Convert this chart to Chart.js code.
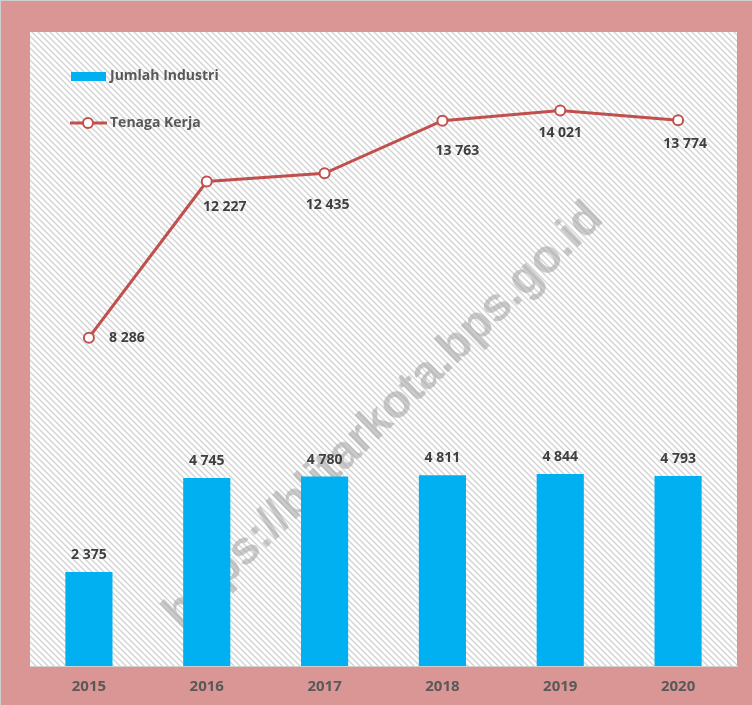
<!DOCTYPE html>
<html>
<head>
<meta charset="utf-8">
<script src="https://cdn.jsdelivr.net/npm/chart.js@4.4.0/dist/chart.umd.min.js"></script>
<style>
  body { margin: 0; background: #d99694; }
  #wrap { width: 752px; height: 705px; }
</style>
</head>
<body>
<div id="wrap"><canvas id="myChart" width="752" height="705"></canvas></div>
<script>
var years = ['2015', '2016', '2017', '2018', '2019', '2020'];
var jumlahIndustri = [2375, 4745, 4780, 4811, 4844, 4793];
var tenagaKerja = [8286, 12227, 12435, 13763, 14021, 13774];

var pink = '#d99694';
var blue = '#00b0f0';
var red = '#c0504d';

function fmt(v) {
  return String(v).replace(/\B(?=(\d{3})+(?!\d))/g, ' ');
}

function hatch(ctx) {
  var c = document.createElement('canvas');
  c.width = 6; c.height = 6;
  var p = c.getContext('2d');
  p.fillStyle = '#fff';
  p.fillRect(0, 0, 6, 6);
  p.strokeStyle = '#d3d3d3';
  p.lineWidth = 1.4;
  p.beginPath();
  p.moveTo(-1, -1); p.lineTo(7, 7);
  p.moveTo(-4, 2); p.lineTo(4, 10);
  p.moveTo(2, -4); p.lineTo(10, 4);
  p.stroke();
  return ctx.createPattern(c, 'repeat');
}

// background, hatch and watermark
var backdrop = {
  id: 'backdrop',
  beforeDraw: function(chart) {
    var ctx = chart.ctx, a = chart.chartArea;
    ctx.save();
    ctx.fillStyle = pink;
    ctx.fillRect(0, 0, chart.width, chart.height);
    ctx.fillStyle = '#cfcfcf';
    ctx.fillRect(0, 0, chart.width, 1);
    ctx.fillRect(0, 0, 1, chart.height);
    ctx.fillStyle = hatch(ctx);
    ctx.fillRect(a.left, a.top, a.right - a.left, a.bottom - a.top);
    ctx.restore();
  },
  beforeDatasetsDraw: function(chart) {
    var ctx = chart.ctx;
    ctx.save();
    ctx.translate(384, 416);
    ctx.rotate(-44 * Math.PI / 180);
    ctx.font = 'bold 47px "Liberation Sans", Arial, sans-serif';
    ctx.fillStyle = 'rgba(160,160,160,0.55)';
    ctx.textAlign = 'center';
    ctx.textBaseline = 'middle';
    ctx.fillText('https://blitarkota.bps.go.id', 0, 0);
    ctx.restore();
  }
};

// value labels and legend
var labels = {
  id: 'labels',
  afterDatasetsDraw: function(chart, args, opts) {
    var ctx = chart.ctx;
    ctx.save();
    ctx.font = 'bold 14px "Open Sans", sans-serif';
    ctx.fillStyle = '#3f3f3f';
    ctx.textAlign = 'center';
    ctx.textBaseline = 'middle';
    chart.getDatasetMeta(0).data.forEach(function(el, i) {
      ctx.fillText(fmt(jumlahIndustri[i]), el.x, el.y - 17);
    });
    chart.getDatasetMeta(1).data.forEach(function(el, i) {
      var o = opts.lineOffsets[i];
      ctx.fillText(fmt(tenagaKerja[i]), el.x + o[0], el.y + o[1]);
    });

    // legend
    ctx.font = 'bold 14px "Open Sans", sans-serif';
    ctx.fillStyle = '#595959';
    ctx.textAlign = 'left';
    ctx.fillText('Jumlah Industri', 110, 76);
    ctx.fillText('Tenaga Kerja', 110, 123);
    ctx.fillStyle = blue;
    ctx.fillRect(71, 72, 35, 9);
    ctx.strokeStyle = red;
    ctx.lineWidth = 3;
    ctx.beginPath();
    ctx.moveTo(70, 123); ctx.lineTo(107, 123);
    ctx.stroke();
    ctx.beginPath();
    ctx.arc(88, 123, 5, 0, Math.PI * 2);
    ctx.fillStyle = '#fff';
    ctx.fill();
    ctx.lineWidth = 2;
    ctx.stroke();
    ctx.restore();
  }
};

var ctx = document.getElementById('myChart').getContext('2d');
new Chart(ctx, {
  data: {
    labels: years,
    datasets: [{
      type: 'bar',
      label: 'Jumlah Industri',
      data: jumlahIndustri,
      backgroundColor: blue,
      barPercentage: 0.4,
      categoryPercentage: 1,
      order: 2
    }, {
      type: 'line',
      label: 'Tenaga Kerja',
      data: tenagaKerja,
      borderColor: red,
      borderWidth: 3,
      tension: 0,
      pointRadius: 5,
      pointBorderWidth: 2,
      pointBackgroundColor: '#fff',
      pointBorderColor: red,
      order: 1
    }]
  },
  options: {
    responsive: false,
    animation: false,
    layout: { padding: { left: 30, right: 15, top: 32, bottom: 0 } },
    plugins: {
      legend: { display: false },
      tooltip: { enabled: false },
      labels: { lineOffsets: [[38, 0], [18, 26], [3, 32], [15, 30], [0, 23], [7, 24]] }
    },
    scales: {
      x: {
        grid: { display: false, drawTicks: false },
        border: { display: true, color: '#d0d0d0', width: 1 },
        ticks: { color: '#595959', font: { family: '"Open Sans", sans-serif', size: 15, weight: 'bold' }, padding: 12 },
        afterFit: function(scale) { scale.height = 39; }
      },
      y: {
        display: false,
        min: 0,
        max: 16000
      }
    }
  },
  plugins: [backdrop, labels]
});
</script>
</body>
</html>
